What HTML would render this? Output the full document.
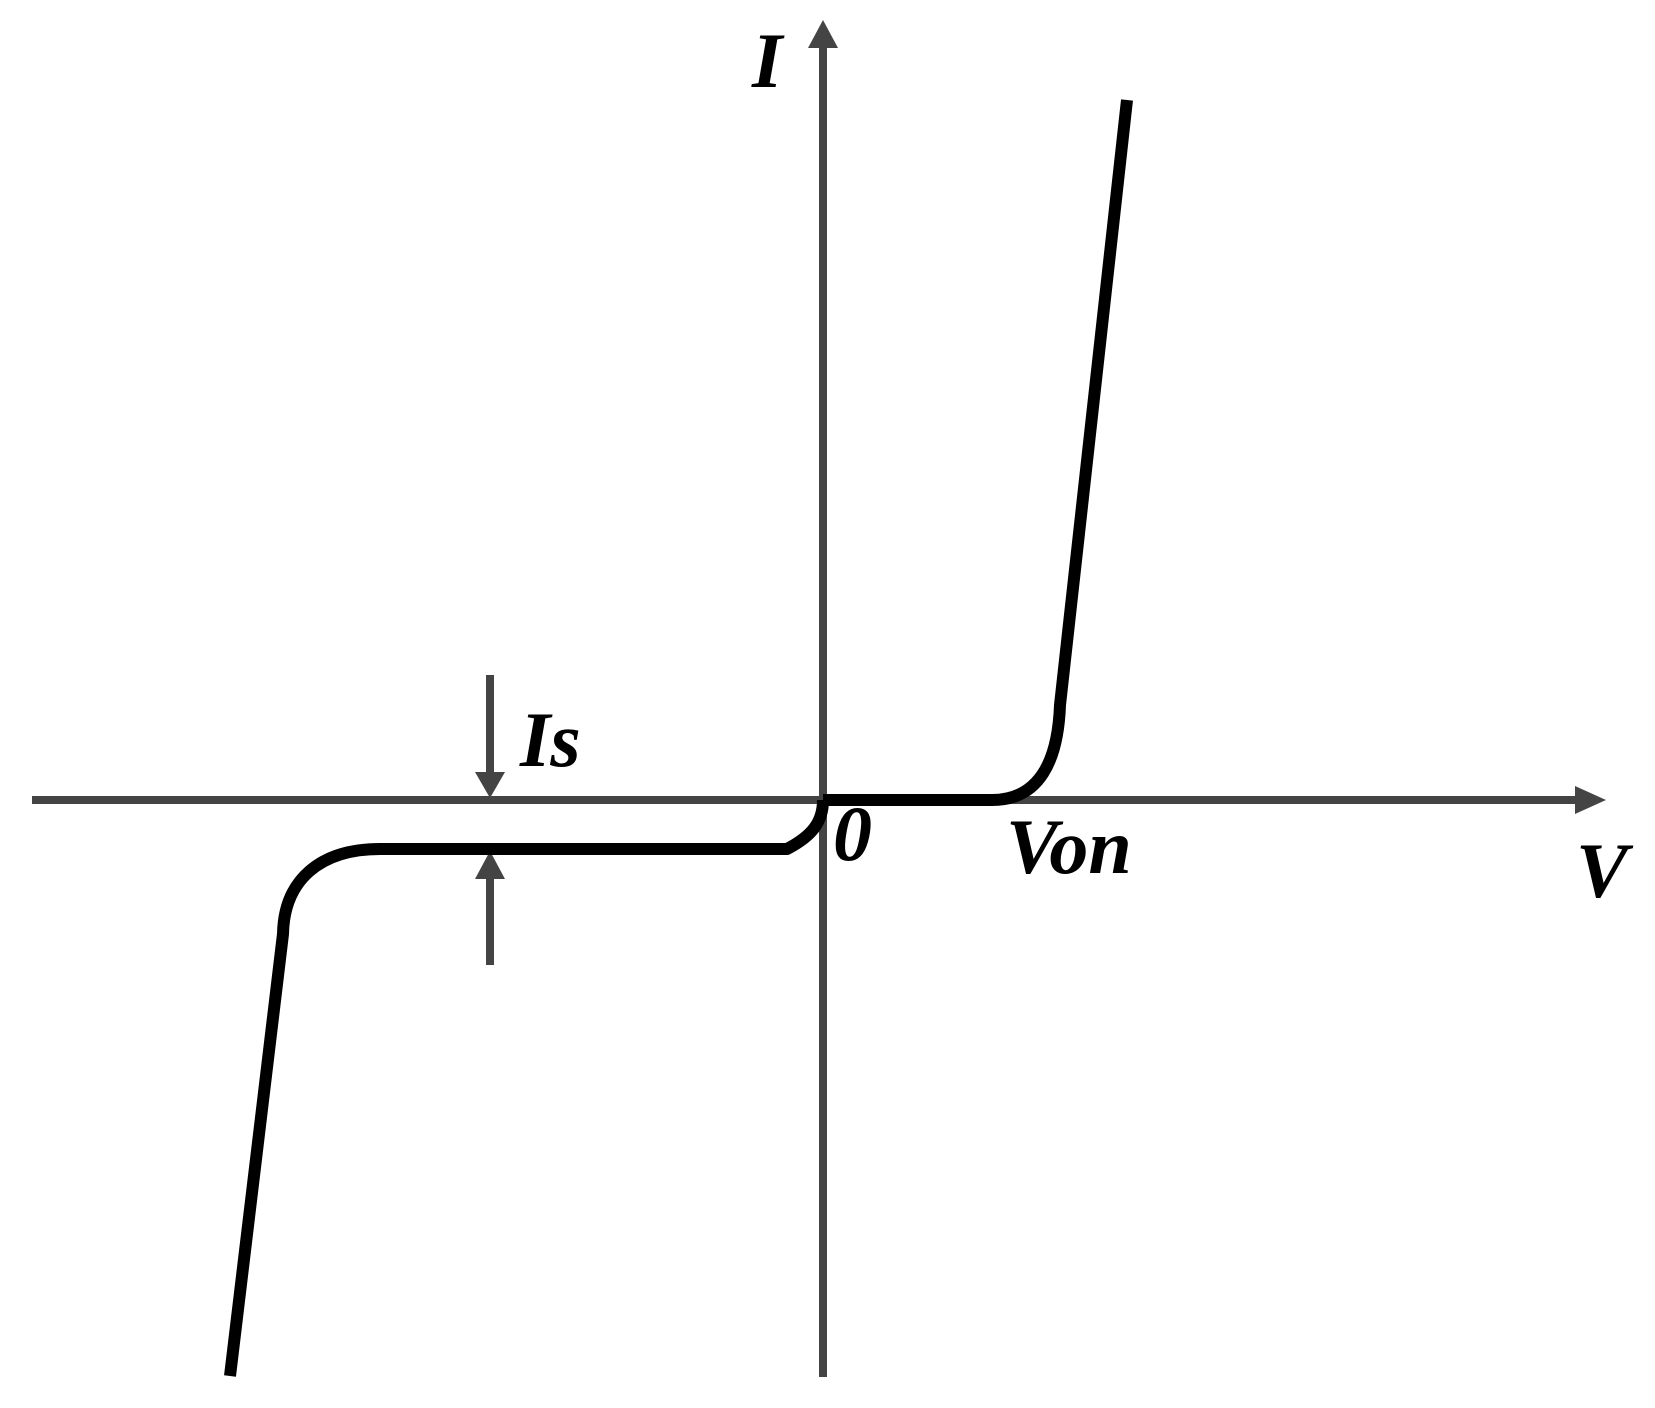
<!DOCTYPE html>
<html><head><style>html,body{margin:0;padding:0;background:#fff;}svg{display:block}
.t{font-family:"Liberation Serif","Times New Roman",serif;font-weight:bold;font-style:italic;font-size:78px;fill:#000}</style></head>
<body>
<svg width="1655" height="1408" viewBox="0 0 1655 1408" xmlns="http://www.w3.org/2000/svg">
<g stroke="#444" stroke-width="8" fill="none">
<line x1="823" y1="1377" x2="823" y2="44"/>
<line x1="32" y1="800" x2="1578" y2="800"/>
<line x1="490" y1="675" x2="490" y2="775"/>
<line x1="490" y1="875" x2="490" y2="965"/>
</g>
<g fill="#444">
<polygon points="823,20 808,48 838,48"/>
<polygon points="1606,800 1575,786 1575,814"/>
<polygon points="490,798 475,772 505,772"/>
<polygon points="490,851 475,879 505,879"/>
</g>
<g stroke="#000" stroke-width="12" fill="none" stroke-linejoin="round">
<path d="M823,800 L992,800 C1040,800 1058,760 1060,705 L1127,100"/>
<path d="M823,800 C823,822 812,836 787,849 L380,849 C320,849 284,880 283,934 L230,1376"/>
</g>
<text class="t" x="752" y="87">I</text>
<text class="t" x="520" y="766">Is</text>
<text class="t" x="833" y="860">0</text>
<text class="t" x="1006" y="873">Von</text>
<text class="t" x="1576" y="897">V</text>
</svg>
</body></html>
